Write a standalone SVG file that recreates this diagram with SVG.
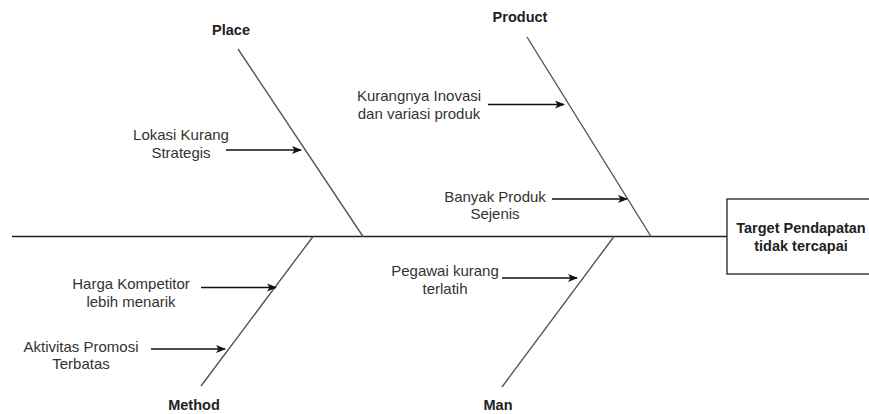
<svg xmlns="http://www.w3.org/2000/svg" width="869" height="414" viewBox="0 0 869 414">
<style>
.t{font-family:"Liberation Sans",Arial,sans-serif;font-size:15px;fill:#333;text-anchor:middle}
.b{font-family:"Liberation Sans",Arial,sans-serif;font-size:14.5px;font-weight:bold;fill:#222;text-anchor:middle}
.bone{stroke:#555;stroke-width:1.4;fill:none}
.arr{stroke:#111;stroke-width:1.3;fill:none;marker-end:url(#ah)}
</style>
<defs>
<marker id="ah" markerWidth="10" markerHeight="8" refX="9" refY="4" orient="auto" markerUnits="userSpaceOnUse">
<path d="M0,0 L10,4 L0,8 L2.5,4 Z" fill="#111"/>
</marker>
</defs>
<rect width="869" height="414" fill="#fff"/>
<g id="connectors">
<line x1="12" y1="236.5" x2="727" y2="236.5" stroke="#222" stroke-width="1.4"/>
<line class="bone" x1="238" y1="49" x2="363" y2="236.5"/>
<line class="bone" x1="527" y1="37" x2="651" y2="236.5"/>
<line class="bone" x1="313" y1="236.5" x2="201" y2="386"/>
<line class="bone" x1="614" y1="236.5" x2="502" y2="387"/>
<line class="arr" x1="226" y1="150" x2="301" y2="150"/>
<line class="arr" x1="488" y1="104.5" x2="564" y2="104.5"/>
<line class="arr" x1="552" y1="199" x2="627" y2="199"/>
<line class="arr" x1="201" y1="287.5" x2="276" y2="287.5"/>
<line class="arr" x1="151" y1="349" x2="225" y2="349"/>
<line class="arr" x1="502" y1="278" x2="577" y2="278"/>
</g>
<g id="head">
<rect x="727" y="199" width="200" height="75" fill="#fff" stroke="#222" stroke-width="1.3"/>
<text class="b" x="801" y="233">Target Pendapatan</text>
<text class="b" x="801" y="251">tidak tercapai</text>
</g>
<g id="place"><text class="b" x="231" y="34.5">Place</text></g>
<g id="product"><text class="b" x="520" y="22">Product</text></g>
<g id="method"><text class="b" x="194" y="409.5">Method</text></g>
<g id="man"><text class="b" x="498" y="410">Man</text></g>
<g id="lokasi"><text class="t" x="181" y="139.5">Lokasi Kurang</text><text class="t" x="181" y="157.5">Strategis</text></g>
<g id="inovasi"><text class="t" x="419" y="100.5">Kurangnya Inovasi</text><text class="t" x="419" y="118.5">dan variasi produk</text></g>
<g id="banyak"><text class="t" x="495" y="201.5">Banyak Produk</text><text class="t" x="495" y="219">Sejenis</text></g>
<g id="harga"><text class="t" x="131" y="289">Harga Kompetitor</text><text class="t" x="131" y="307">lebih menarik</text></g>
<g id="aktivitas"><text class="t" x="81" y="351.5">Aktivitas Promosi</text><text class="t" x="81" y="369">Terbatas</text></g>
<g id="pegawai"><text class="t" x="445" y="275.5">Pegawai kurang</text><text class="t" x="445" y="294">terlatih</text></g>
</svg>
